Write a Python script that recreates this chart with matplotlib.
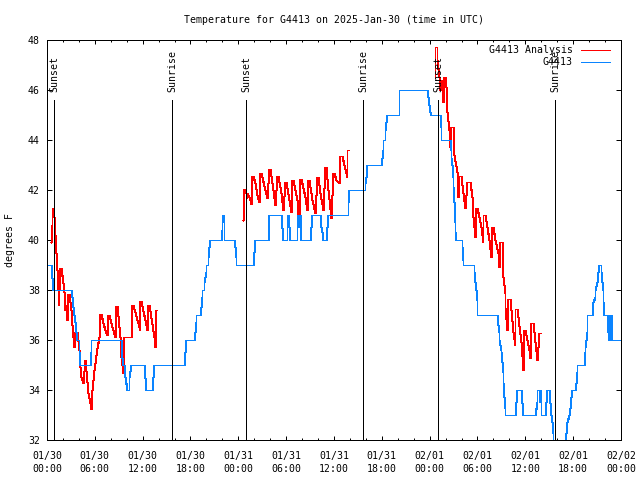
import matplotlib
matplotlib.use('Agg')
import matplotlib.pyplot as plt
import matplotlib.transforms as mtransforms
import matplotlib.dates as mdates
import numpy as np
import pandas as pd

# ---------------- data (hours after 2025-01-30 00:00 UTC, degrees F) ----------------
base = np.datetime64('2025-01-30T00:00')

obs_hours = [0.13, 0.54, 0.63, 0.71, 2.97, 3.14, 3.22, 3.39, 3.56, 3.64, 3.81, 3.97, 4.06, 4.14,
             5.40, 5.48, 5.56, 9.24, 9.41, 9.58, 9.70, 9.83, 9.99, 10.25, 10.33, 10.5, 12.17, 12.25,
             12.42, 13.17, 13.26, 13.42, 17.23, 17.31, 17.39, 18.48, 18.57, 18.65, 18.74, 19.24,
             19.32, 19.41, 19.49, 19.66, 19.74, 19.91, 20.0, 20.16, 20.25, 20.33, 20.49, 21.83,
             21.92, 22.0, 22.08, 22.17, 22.25, 23.5, 23.59, 23.67, 23.75, 25.85, 25.93, 26.06,
             27.73, 27.81, 29.40, 29.53, 29.65, 30.07, 30.16, 30.24, 30.33, 30.41, 30.49, 31.33,
             31.41, 31.49, 31.58, 31.62, 31.70, 31.78, 31.91, 32.96, 33.08, 33.25, 34.25, 34.34,
             34.50, 34.59, 35.0, 35.09, 35.26, 37.77, 37.81, 37.85, 39.9, 39.95, 40.03, 40.1,
             41.95, 42.03, 42.12, 42.2, 42.37, 42.45, 42.54, 42.71, 44.12, 44.2, 47.72, 47.8,
             47.97, 48.05, 48.22, 49.3, 49.39, 49.47, 50.5, 50.65, 50.73, 50.82, 50.9, 50.98,
             51.07, 51.15, 51.24, 51.32, 52.03, 52.11, 52.2, 52.24, 53.5, 53.58, 53.66, 53.79,
             53.91, 54.0, 56.45, 56.55, 56.67, 56.75, 56.92, 57.0, 57.09, 57.17, 57.25, 57.34,
             57.42, 57.5, 58.76, 58.84, 58.93, 59.43, 59.52, 59.68, 61.27, 61.44, 61.52, 61.77,
             61.85, 61.94, 62.02, 62.52, 62.61, 62.77, 63.02, 63.11, 63.19, 63.32, 63.44, 63.53,
             63.6, 64.94, 65.02, 65.11, 65.27, 65.44, 65.61, 65.69, 65.86, 66.28, 66.36, 66.45,
             66.53, 67.37, 67.45, 67.54, 67.62, 67.71, 67.79, 68.38, 68.55, 68.71, 68.8, 68.97,
             69.13, 69.3, 69.47, 69.55, 69.64, 69.72, 69.8, 69.89, 70.3, 70.39, 70.47, 70.56,
             70.64, 70.73, 70.81, 70.89, 72.0]
obs_temps = [39, 39, 38.5, 38, 38, 37.7, 37.3, 37, 36.7, 36.3, 36, 36, 35.5, 35,
             35, 35.5, 36, 36, 35.3, 35, 35, 34.5, 34, 34, 34.5, 35, 35, 34.5,
             34, 34, 34.5, 35, 35, 35.5, 36, 36, 36.3, 36.7, 37, 37,
             37.3, 37.7, 38, 38, 38.3, 38.7, 39, 39, 39.3, 39.7, 40, 40,
             40.4, 40.7, 41, 40.7, 40, 40, 39.7, 39.3, 39, 39, 39.5, 40,
             40, 41, 41, 40.5, 40, 40, 40.5, 41, 41, 40.5, 40, 40,
             40.5, 41, 41, 40.5, 41, 41, 40, 40, 40.5, 41, 41, 40.5,
             40.3, 40, 40, 40.5, 41, 41, 41.5, 42, 42, 42.3, 42.5, 43,
             43, 43.3, 43.6, 44, 44, 44.4, 44.7, 45, 45, 46, 46, 45.7,
             45.4, 45.1, 45, 45, 44.5, 44, 44, 43.6, 43.3, 43, 42.5, 42.1,
             41.5, 40.7, 40.3, 40, 40, 39.7, 39.2, 39, 39, 38.7, 38.3, 38,
             37.6, 37, 37, 36.6, 36.3, 36, 35.6, 35.5, 35.1, 34.7, 34.3, 33.7,
             33.3, 33, 33, 33.5, 34, 34, 33.5, 33, 33, 33.5, 34, 34,
             33.5, 34, 33, 33, 33.5, 34, 34, 33.5, 33, 32.7, 32.3, 31.9,
             31.3, 31.3, 31.9, 32.3, 32.7, 33, 33.3, 33.7, 34, 34, 34.3, 34.7,
             35, 35, 35.5, 35.7, 36, 36.3, 37, 37, 37.5, 37.7, 38, 38.3,
             38.7, 39, 39, 38.7, 38.3, 38, 37.5, 37, 37, 36.3, 36, 37,
             37, 36, 37, 36, 36]

ana1_hours = [0.54, 0.59, 0.63, 0.80, 0.88, 0.96, 1.05, 1.13, 1.21, 1.30, 1.38, 1.46, 1.55, 1.63,
              1.80, 1.97, 2.13, 2.30, 2.38, 2.55, 2.64, 2.80, 2.97, 3.14, 3.30, 3.39, 3.56, 3.81,
              3.97, 4.14, 4.31, 4.48, 4.73, 4.98, 5.14, 5.40, 5.48, 5.65, 5.90, 6.23, 6.48, 6.65,
              6.82, 7.07, 7.32, 7.48, 7.65, 7.82, 8.16, 8.49, 8.66, 8.83, 9.16, 9.33, 9.50, 9.66,
              10.58, 10.66, 10.83, 11.5, 11.58, 11.67, 11.84, 12.5, 12.67, 12.84, 13.42, 13.55,
              13.72, 13.8]
ana1_temps = [39.93, 40.6, 41.27, 41.27, 40.93, 40.2, 40.2, 39.47, 38.8, 38.8, 38.0, 37.4, 38.0, 38.87,
              38.87, 38.27, 37.93, 37.2, 37.4, 36.8, 37.84, 37.84, 37.2, 36.6, 36.13, 35.73, 36.33, 36.33,
              35.6, 34.93, 34.53, 34.27, 35.2, 34.33, 33.87, 33.47, 33.23, 34.0, 34.8, 35.67, 36.13, 37.03,
              37.03, 36.67, 36.4, 36.2, 37.0, 37.0, 36.53, 36.13, 37.36, 37.36, 36.13, 35.33, 34.69, 36.13,
              36.13, 37.4, 37.4, 36.53, 36.4, 37.57, 37.57, 36.4, 37.4, 37.4, 36.13, 35.73,
              37.2, 37.2]

ana2_hours = [24.59, 24.72, 24.88, 24.97, 25.05, 25.13, 25.3, 25.47, 25.64, 25.72, 25.88, 26.05, 26.38,
              26.55, 26.76, 26.9, 27.3, 27.55, 27.8, 27.93, 28.3, 28.55, 28.8, 28.93, 29.3, 29.55,
              29.8, 29.93, 30.3, 30.55, 30.78, 30.9, 31.3, 31.55, 31.78, 31.9, 32.3, 32.58, 32.79,
              32.92, 33.3, 33.58, 33.83, 33.96, 34.3, 34.59, 34.84, 34.97, 35.3, 35.6, 35.84, 35.97,
              36.3, 36.6, 36.72, 36.95, 37.2, 37.6, 37.67, 37.93]
ana2_temps = [40.8, 42.03, 42.03, 41.87, 41.67, 41.87, 41.73, 41.6, 41.44, 42.56, 42.56, 42.27, 41.8,
              41.53, 42.69, 42.69, 42.0, 41.67, 42.83, 42.83, 42.0, 41.4, 42.56, 42.56, 41.87, 41.2,
              42.33, 42.33, 41.6, 41.13, 42.4, 42.4, 41.6, 40.53, 42.43, 42.43, 41.73, 41.2, 42.4,
              42.4, 41.6, 41.07, 42.53, 42.53, 41.87, 41.2, 42.93, 42.93, 42.0, 40.87, 42.67, 42.67,
              42.4, 42.27, 43.36, 43.36, 43.0, 42.53, 43.6, 43.6]

ana3_hours = [48.72, 48.72, 48.89, 48.97, 49.14, 49.31, 49.39, 49.56, 49.73, 49.81, 49.98, 50.06, 50.23,
              50.4, 50.56, 50.69, 50.9, 51.07, 51.4, 51.61, 51.7, 51.99, 52.24, 52.45, 52.74, 53.07,
              53.28, 53.49, 53.66, 53.78, 53.95, 54.16, 54.41, 54.66, 54.75, 55.0, 55.25, 55.5, 55.75,
              55.79, 56.0, 56.25, 56.59, 56.75, 56.79, 57.04, 57.25, 57.42, 57.5, 57.67, 57.84, 58.09,
              58.5, 58.68, 58.76, 59.01, 59.4, 59.68, 59.85, 60.0, 60.43, 60.6, 60.77, 60.94, 61.45,
              61.6, 61.77, 61.94]
ana3_temps = [46.47, 47.71, 47.71, 47.2, 46.53, 46.0, 46.4, 46.27, 45.53, 46.51, 46.51, 46.13, 45.13,
              44.4, 43.73, 44.51, 44.51, 43.4, 42.73, 41.73, 42.56, 42.56, 41.87, 41.27, 42.31, 42.31,
              41.73, 40.93, 40.13, 41.27, 41.27, 40.93, 40.53, 39.93, 41.0, 41.0, 40.53, 40.0, 39.33,
              40.51, 40.51, 40.0, 39.47, 38.93, 39.93, 39.93, 38.5, 37.87, 37.27, 36.4, 37.63, 37.63,
              36.3, 35.8, 37.23, 37.23, 35.9, 34.8, 36.4, 36.4, 35.6, 35.27, 36.67, 36.67, 35.2,
              35.73, 36.27, 36.27]

sunset_hours = [0.93, 25.0, 49.1]
sunrise_hours = [15.73, 39.7, 63.78]

x_tick_hours = list(range(0, 73, 6))
y_ticks = list(range(32, 49, 2))

title = "Temperature for G4413 on 2025-Jan-30 (time in UTC)"
ylabel = "degrees F"
label_analysis = "G4413 Analysis"
label_obs = "G4413"


def to_time(hours):
    return base + (np.array(hours) * 3600).round().astype('timedelta64[s]')


# ---------------- figure ----------------
plt.rcParams['font.family'] = ['DejaVu Sans Mono']
plt.rcParams['font.size'] = 7.1

RED = '#ff0000'
BLUE = '#0a84ff'
LW = 0.72      # one pixel at 100 dpi

fig = plt.figure(figsize=(6.4, 4.8), dpi=100)
ax = fig.add_axes([47 / 640, 40 / 480, (621 - 47) / 640, 400 / 480])

style = dict(lw=LW, antialiased=False, snap=True)
ax.plot(to_time(ana1_hours), ana1_temps, color=RED, label=label_analysis, **style)
ax.plot(to_time(ana2_hours), ana2_temps, color=RED, **style)
ax.plot(to_time(ana3_hours), ana3_temps, color=RED, **style)
ax.plot(to_time(obs_hours), obs_temps, color=BLUE, label=label_obs, **style)

trans = mtransforms.blended_transform_factory(ax.transData, ax.transAxes)
for name, hrs in (("Sunset", sunset_hours), ("Sunrise", sunrise_hours)):
    for t in mdates.date2num(to_time(hrs)):
        ax.plot([t, t], [0, 0.85], transform=trans, color='black', **style)
        ax.text(t, 0.87, name, transform=trans, rotation=90, ha='center', va='bottom')

ax.set_xlim(to_time([0])[0], to_time([72])[0])
ax.set_ylim(32, 48)

xt = to_time(x_tick_hours)
ax.set_xticks(mdates.date2num(xt))
ax.set_xticklabels([pd.Timestamp(t).strftime('%m/%d\n%H:%M') for t in xt], linespacing=1.35)
ax.set_xticks(mdates.date2num(to_time(list(range(0, 73, 2)))), minor=True)
ax.set_yticks(y_ticks)
ax.set_yticklabels([str(v) for v in y_ticks])

ax.tick_params(axis='both', which='both', direction='in', top=True, right=True, width=LW)
ax.tick_params(axis='x', which='major', length=3.2, pad=8)
ax.tick_params(axis='x', which='minor', length=1.6)
ax.tick_params(axis='y', which='major', length=3.6, pad=5)
for s in ax.spines.values():
    s.set_linewidth(LW)

leg = ax.legend(loc='upper right', bbox_to_anchor=(1 - 11.5 / 574, 1 - 5 / 400), frameon=False,
                markerfirst=False, handlelength=2.9, handletextpad=0.85, labelspacing=0.22,
                borderpad=0, borderaxespad=0)

fig.text(334 / 640, 1 - 20 / 480, title, ha='center', va='center')
fig.text(10 / 640, 1 - 240 / 480, ylabel, rotation=90, ha='center', va='center')

fig.savefig('out.png', dpi=100)
